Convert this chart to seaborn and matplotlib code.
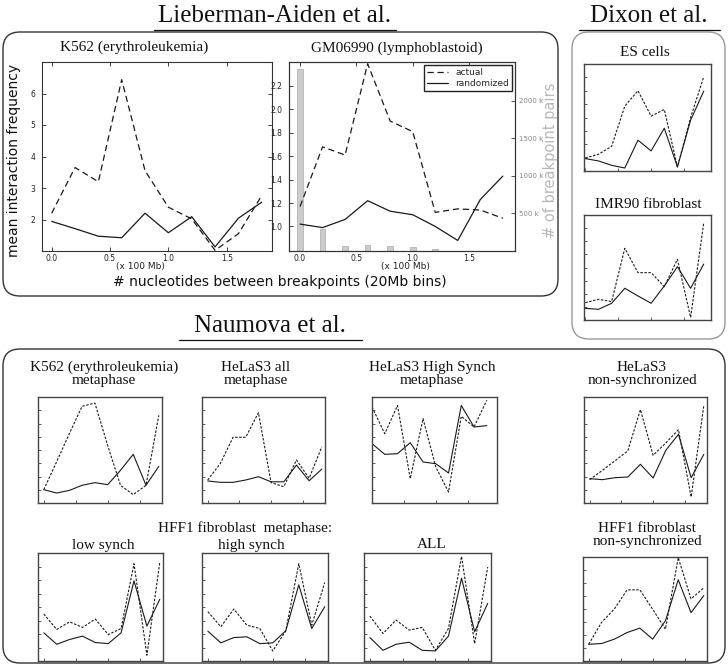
import numpy as np
import pandas as pd
import matplotlib
matplotlib.use("Agg")
import matplotlib.pyplot as plt
import seaborn as sns
from matplotlib.patches import FancyBboxPatch
from matplotlib.lines import Line2D
from matplotlib.ticker import MultipleLocator, FixedLocator

sns.set_theme(style="white")
plt.rcParams['font.family'] = ['DejaVu Sans']

# ---------------- data ----------------
bins = [0.0, 0.2, 0.4, 0.6, 0.8, 1.0, 1.2, 1.4, 1.6, 1.8]

k562_actual = [2.2, 3.65, 3.2, 6.44, 3.55, 2.39, 2.02, 1.02, 1.55, 2.76]
k562_random = [1.94, 1.71, 1.47, 1.42, 2.2, 1.58, 2.09, 1.13, 2.04, 2.55]

gm_actual = [1.17, 1.68, 1.61, 2.39, 1.90, 1.81, 1.12, 1.15, 1.14, 1.07]
gm_random = [1.02, 0.99, 1.06, 1.22, 1.13, 1.10, 1.00, 0.88, 1.23, 1.43]
gm_pairs = [2420000, 295000, 67000, 80000, 67000, 57000, 30000, 6000, 2000, 1000]

es_actual = [1.22, 1.56, 2.31, 6.06, 7.5, 5.13, 5.75, 0.38, 5.0, 8.81]
es_random = [1.16, 0.94, 0.53, 0.28, 2.88, 1.88, 4.0, 0.38, 4.75, 7.47]
imr_actual = [1.65, 1.97, 1.75, 6.83, 4.51, 4.51, 3.17, 5.78, 0.25, 9.27]
imr_random = [1.11, 1.02, 1.59, 3.02, 2.29, 1.59, 3.24, 5.08, 3.02, 5.33]

k562m_actual = [1.26, 3.87, 6.54, 9.12, 9.43, 5.44, 1.67, 0.79, 1.67, 8.27]
k562m_random = [1.26, 0.94, 1.19, 1.67, 1.92, 1.73, 3.08, 4.59, 1.67, 3.46]
hela_all_actual = [2.17, 3.74, 6.2, 6.2, 8.52, 1.92, 1.54, 4.06, 2.33, 5.31]
hela_all_random = [2.08, 1.95, 1.95, 2.17, 2.48, 2.0, 2.0, 3.58, 2.1, 3.2]
hela_hs_actual = [9.06, 6.54, 9.2, 2.3, 7.96, 3.4, 1.04, 8.18, 7.17, 9.69]
hela_hs_random = [5.6, 4.59, 4.65, 5.69, 3.87, 3.71, 2.83, 9.2, 7.17, 7.3]
hela_ns_actual = [2.2, 3.08, 3.99, 4.91, 8.81, 4.5, 5.66, 6.92, 0.57, 9.21]
hela_ns_random = [2.3, 2.2, 2.39, 2.45, 3.65, 2.36, 4.97, 6.48, 2.39, 4.59]
hff_low_actual = [4.35, 2.92, 3.63, 3.11, 3.88, 2.45, 3.01, 9.01, 0.53, 9.13]
hff_low_random = [2.61, 1.55, 1.99, 2.3, 1.71, 1.61, 2.61, 7.42, 3.23, 5.71]
hff_high_actual = [4.57, 3.17, 4.81, 3.32, 3.01, 0.93, 2.8, 9.01, 3.32, 7.27]
hff_high_random = [2.76, 1.68, 2.17, 2.24, 1.61, 1.68, 2.8, 7.05, 3.01, 5.03]
hff_all_actual = [4.16, 2.55, 3.79, 2.86, 3.11, 0.99, 3.01, 9.69, 1.61, 8.7]
hff_all_random = [2.17, 0.99, 1.55, 1.74, 0.99, 0.93, 2.3, 7.67, 2.7, 5.34]
hff_ns_actual = [1.61, 3.71, 5.0, 6.84, 6.84, 4.97, 3.06, 9.94, 5.97, 7.03]
hff_ns_random = [1.61, 1.68, 2.1, 2.74, 3.16, 2.1, 3.87, 7.81, 4.65, 6.29]

k562_yticks = [2, 3, 4, 5, 6]
gm_yticks = [1.0, 1.2, 1.4, 1.6, 1.8, 2.0, 2.2]
xticks = [0.0, 0.5, 1.0, 1.5]
pair_ticks = [500000, 1000000, 1500000, 2000000]
pair_labels = ["500 k", "1000 k", "1500 k", "2000 k"]

# ---------------- figure ----------------
W, H = 728, 669
fig = plt.figure(figsize=(W / 100, H / 100), dpi=100)
fig.patch.set_facecolor("white")

SERIF = ["Liberation Serif", "DejaVu Serif"]
LINE_C = "#1a1a1a"


def add_ax(x0, y0, x1, y1):
    return fig.add_axes([x0 / W, 1 - y1 / H, (x1 - x0) / W, (y1 - y0) / H])


def ftext(x, y, s, **kw):
    kw.setdefault("ha", "center")
    kw.setdefault("va", "center")
    return fig.text(x / W, 1 - y / H, s, **kw)


def rbox(x0, y0, x1, y1, color, r=0.17, lw=1.0):
    p = FancyBboxPatch((x0 / 100, (H - y1) / 100), (x1 - x0) / 100, (y1 - y0) / 100,
                       boxstyle=f"round,pad=0,rounding_size={r}",
                       transform=fig.dpi_scale_trans, fill=False,
                       edgecolor=color, lw=lw)
    fig.add_artist(p)


def underline(x0, x1, y):
    fig.add_artist(Line2D([x0 / W, x1 / W], [1 - y / H, 1 - y / H],
                          transform=fig.transFigure, color="#111111", lw=0.9))


def frame(ax, color="#333333", lw=0.8):
    for s in ax.spines.values():
        s.set_visible(True)
        s.set_color(color)
        s.set_linewidth(lw)
    ax.set_facecolor("white")
    ax.grid(False)


def draw_pair(ax, actual, random, dash, lw=0.9):
    df = pd.DataFrame({"bin": bins, "actual": actual, "randomized": random})
    sns.lineplot(data=df, x="bin", y="actual", ax=ax, color=LINE_C, lw=lw,
                 linestyle=(0, dash), label="actual")
    sns.lineplot(data=df, x="bin", y="randomized", ax=ax, color=LINE_C, lw=lw,
                 label="randomized")
    ax.set_xlabel("")
    ax.set_ylabel("")
    lg = ax.get_legend()
    if lg is not None:
        lg.remove()


# ---------------- boxes and headings ----------------
rbox(3, 32, 558, 296, "#333333")
rbox(572, 32, 725, 339, "#999999")
rbox(3, 349, 725, 663, "#333333")

ftext(275, 16, "Lieberman-Aiden et al.", family=SERIF, fontsize=18, color="#111111")
underline(154, 396, 30)
ftext(649, 16, "Dixon et al.", family=SERIF, fontsize=18, color="#111111")
underline(579, 720, 30)
ftext(270, 326, "Naumova et al.", family=SERIF, fontsize=18, color="#111111")
underline(179, 362, 340)

# ---------------- Lieberman-Aiden: K562 ----------------
ax = add_ax(42, 62, 272, 251)
frame(ax)
draw_pair(ax, k562_actual, k562_random, (5, 3), lw=0.9)
ax.set_xlim(-0.083, 1.888)
ax.set_ylim(1.0, 7.0)
ax.set_yticks(k562_yticks)
ax.set_yticklabels([str(v) for v in k562_yticks])
ax.set_xticks(xticks)
ax.set_xticklabels([f"{v:.1f}" for v in xticks])
ax.tick_params(direction="in", length=3, width=0.6, labelsize=5.5, top=True, right=True,
               left=True, bottom=True, pad=2.5, colors="#222222")
ax.tick_params(axis="y", pad=5)
ftext(134, 47, "K562 (erythroleukemia)", family=SERIF, fontsize=11, color="#111111")
ftext(140, 267, "(x 100 Mb)", fontsize=6.5, color="#222222")

# ---------------- Lieberman-Aiden: GM06990 ----------------
ax = add_ax(289, 62, 515, 251)
frame(ax)
ax2 = ax.twinx()
frame(ax2)
ax2.bar(bins, gm_pairs, width=0.05, color="#cccccc", edgecolor="#aaaaaa", lw=0.5)
ax2.set_ylim(0, 2515000)
ax2.set_yticks(pair_ticks)
ax2.set_yticklabels(pair_labels)
ax2.tick_params(direction="in", length=3, width=0.6, labelsize=5, right=True, left=False,
                labelcolor="#888888", color="#333333", pad=3)
ax2.set_ylabel("")
ax.set_zorder(ax2.get_zorder() + 1)
ax.patch.set_visible(False)
draw_pair(ax, gm_actual, gm_random, (5, 3), lw=0.9)
ax.set_xlim(-0.098, 1.908)
ax.set_ylim(0.79, 2.405)
ax.set_yticks(gm_yticks)
ax.set_yticklabels([f"{v:.1f}" for v in gm_yticks])
ax.set_xticks(xticks)
ax.set_xticklabels([f"{v:.1f}" for v in xticks])
ax.tick_params(direction="in", length=3, width=0.6, labelsize=5.5, top=True, right=False,
               pad=2.5, colors="#222222")
ax.tick_params(axis="y", pad=5)
ax2.set_xlim(ax.get_xlim())
h = [Line2D([], [], color=LINE_C, lw=0.9, linestyle=(0, (5, 3))),
     Line2D([], [], color=LINE_C, lw=0.9)]
ax.legend(h, ["actual", "randomized"], loc="upper right", fontsize=6.5, frameon=True,
          fancybox=False, edgecolor="#222222", handlelength=2.3, handletextpad=0.8,
          borderpad=0.35, labelspacing=0.25, borderaxespad=0.3, framealpha=1)
ftext(397, 48, "GM06990 (lymphoblastoid)", family=SERIF, fontsize=11, color="#111111")
ftext(405, 267, "(x 100 Mb)", fontsize=6.5, color="#222222")

ftext(14, 160, "mean interaction frequency", rotation=90, fontsize=10, color="#111111")
ftext(280, 282, "# nucleotides between breakpoints (20Mb bins)", fontsize=10, color="#111111")
ftext(551, 160, "# of breakpoint pairs", rotation=90, fontsize=10.5, color="#b8b8b8")


# ---------------- small panels ----------------
def small(rect, actual, random, title=None, tpos=None, xlim=(-0.09, 1.85), lw_frame=1.0):
    ax = add_ax(*rect)
    frame(ax, color="#444444", lw=lw_frame)
    draw_pair(ax, actual, random, (2.2, 1.4), lw=0.8)
    ax.set_xlim(*xlim)
    ax.set_ylim(0, 10)
    ax.xaxis.set_major_locator(FixedLocator(xticks))
    ax.yaxis.set_major_locator(MultipleLocator(1.25))
    ax.tick_params(direction="in", length=2.5, width=0.6, labelleft=False, labelbottom=False,
                   left=True, bottom=True, top=False, right=False, colors="#444444")
    if title is not None:
        ftext(tpos[0], tpos[1], title, family=SERIF, fontsize=11, color="#111111",
              linespacing=1.05)
    return ax


# Dixon
small((584, 64, 711, 171), es_actual, es_random, "ES cells", (645, 53), xlim=(-0.02, 1.91))
small((584, 215, 711, 320), imr_actual, imr_random, "IMR90 fibroblast", (648, 204), xlim=(-0.02, 1.91))

# Naumova row 1
small((38, 397, 162, 503), k562m_actual, k562m_random,
      "K562 (erythroleukemia)\nmetaphase", (104, 374))
small((202, 397, 325, 503), hela_all_actual, hela_all_random,
      "HeLaS3 all\nmetaphase", (256, 374))
small((372, 397, 497, 503), hela_hs_actual, hela_hs_random,
      "HeLaS3 High Synch\nmetaphase", (432, 374), xlim=(0.0, 1.96))
small((584, 397, 707, 503), hela_ns_actual, hela_ns_random,
      "HeLaS3\nnon-synchronized", (642, 374))

# Naumova row 2
small((38, 553, 163, 661), hff_low_actual, hff_low_random, "low synch", (103, 545))
small((202, 553, 328, 661), hff_high_actual, hff_high_random, "high synch", (251, 545))
small((364, 553, 491, 661), hff_all_actual, hff_all_random, "ALL", (432, 545))
small((583, 557, 707, 661), hff_ns_actual, hff_ns_random,
      "HFF1 fibroblast\nnon-synchronized", (647, 535))
ftext(245, 528, "HFF1 fibroblast  metaphase:", family=SERIF, fontsize=11, color="#111111")

fig.savefig("out.png", dpi=100, facecolor="white")
